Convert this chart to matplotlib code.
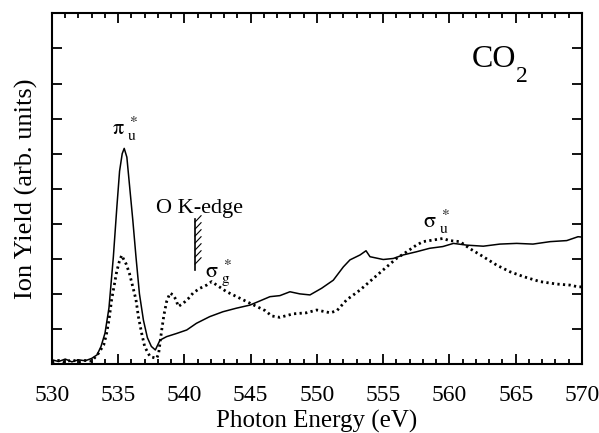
import numpy as np
import matplotlib.pyplot as plt
from matplotlib.ticker import MultipleLocator, NullFormatter

plt.rcParams['font.family'] = ['Liberation Serif', 'DejaVu Serif']
plt.rcParams['mathtext.fontset'] = 'stix'

# solid curve (photon energy eV, ion yield arb. units)
solid_x = [530.0, 530.5, 531.0, 531.5, 532.0, 532.5, 533.0, 533.4, 533.7, 534.0,
           534.3, 534.63, 534.9, 535.1, 535.3, 535.45, 535.65, 535.9, 536.1, 536.34,
           536.6, 536.9, 537.2, 537.5, 537.8, 538.15, 538.65, 539.4, 540.17, 540.9,
           541.9, 542.9, 543.9, 544.94, 545.7, 546.45, 547.2, 547.96, 548.7, 549.47,
           550.35, 551.23, 551.99, 552.49, 553.25, 553.7, 554.0, 554.5, 555.0, 555.76,
           556.5, 557.5, 558.5, 559.5, 560.3, 561.3, 562.55, 563.8, 565.07, 566.3,
           567.6, 568.85, 569.7, 570.0]
solid_y = [0.12, 0.07, 0.14, 0.06, 0.12, 0.09, 0.16, 0.26, 0.5, 0.88,
           1.6, 3.05, 4.5, 5.5, 6.0, 6.15, 5.9, 4.9, 4.1, 3.05,
           2.0, 1.25, 0.75, 0.5, 0.4, 0.68, 0.78, 0.87, 0.97, 1.16,
           1.35, 1.49, 1.59, 1.68, 1.8, 1.92, 1.95, 2.06, 2.0, 1.97,
           2.16, 2.39, 2.77, 2.97, 3.11, 3.23, 3.06, 3.02, 2.98, 3.01,
           3.11, 3.2, 3.3, 3.35, 3.44, 3.39, 3.36, 3.42, 3.44, 3.42,
           3.49, 3.52, 3.63, 3.62]

# dotted curve
dot_x = [530.0, 530.5, 531.0, 531.5, 532.0, 532.5, 533.0, 533.5, 533.9, 534.1,
         534.3, 534.5, 534.7, 534.88, 535.08, 535.26, 535.43, 535.6, 535.84, 536.1,
         536.34, 536.52, 536.77, 537.0, 537.4, 537.9, 538.05, 538.28, 538.45, 538.65,
         538.9, 539.15, 539.36, 539.53, 539.9, 540.3, 540.66, 541.17, 541.67, 542.05,
         542.43, 543.18, 543.94, 544.69, 545.45, 546.1, 546.58, 547.2, 548.2, 549.2,
         549.98, 551.0, 551.5, 552.24, 553.25, 554.25, 555.26, 556.0, 556.77, 557.5,
         558.0, 559.0, 559.5, 560.0, 560.8, 561.5, 562.55, 563.56, 564.57, 565.6,
         566.83, 568.09, 569.1, 569.7, 570.0]
dot_y = [0.06, 0.1, 0.05, 0.12, 0.06, 0.1, 0.08, 0.3, 0.54, 0.83,
         1.25, 1.83, 2.25, 2.63, 2.92, 3.1, 2.97, 2.85, 2.59, 2.2,
         1.83, 1.35, 0.87, 0.49, 0.21, 0.16, 0.3, 0.97, 1.4, 1.78,
         2.02, 1.97, 1.83, 1.64, 1.73, 1.87, 2.03, 2.16, 2.25, 2.35,
         2.25, 2.06, 1.92, 1.78, 1.64, 1.52, 1.37, 1.33, 1.43, 1.46,
         1.54, 1.46, 1.52, 1.83, 2.11, 2.44, 2.77, 3.01, 3.2, 3.39,
         3.49, 3.55, 3.58, 3.52, 3.49, 3.3, 3.06, 2.82, 2.63, 2.49,
         2.35, 2.28, 2.25, 2.2, 2.2]

fig = plt.figure(figsize=(5.99, 4.33), dpi=100)
ax = fig.add_axes([0.0868, 0.1594, 0.8848, 0.8096])

ax.plot(solid_x, solid_y, color='black', lw=1.1)
ax.plot(dot_x, dot_y, color='black', lw=2.0, ls=(0, (0.8, 1.2)))

ax.set_xlim(530, 570)
ax.set_ylim(0, 10)
ax.xaxis.set_major_locator(MultipleLocator(5))
ax.xaxis.set_minor_locator(MultipleLocator(1))
ax.yaxis.set_major_locator(MultipleLocator(1))
ax.yaxis.set_major_formatter(NullFormatter())
ax.tick_params(axis='both', which='both', direction='in', top=True, right=True, width=1.3)
ax.tick_params(axis='both', which='major', length=7)
ax.tick_params(axis='x', which='minor', length=3.5)
ax.tick_params(axis='x', labelsize=17, pad=15)
for s in ax.spines.values():
    s.set_linewidth(1.5)

ax.set_xlabel('Photon Energy (eV)', fontsize=18, labelpad=3)
ax.set_ylabel('Ion Yield (arb. units)', fontsize=19)
ax.yaxis.set_label_coords(-0.026, 0.5)

# labels
ax.text(561.7, 8.48, 'CO', fontsize=23, ha='left', va='baseline')
ax.text(565.05, 8.05, '2', fontsize=17, ha='left', va='baseline')
ax.text(535.5, 6.55, r'$\mathrm{\pi}_{\ \mathrm{u}}^{\ *}$', fontsize=16, ha='center', va='baseline')
ax.text(541.17, 4.3, 'O K-edge', fontsize=16, ha='center', va='baseline')
ax.text(542.6, 2.5, r'$\mathrm{\sigma}_{\ \mathrm{g}}^{\ *}$', fontsize=16, ha='center', va='baseline')
ax.text(559.0, 3.88, r'$\mathrm{\sigma}_{\ \mathrm{u}}^{\ *}$', fontsize=16, ha='center', va='baseline')

# hatched edge marker
edge_x = 540.8
ax.plot([edge_x, edge_x], [2.68, 4.13], color='black', lw=1.2)
for yh in np.arange(2.85, 4.1, 0.2):
    ax.plot([edge_x, edge_x + 0.45], [yh, yh + 0.18], color='black', lw=0.8)

fig.savefig('out.png', dpi=100)
